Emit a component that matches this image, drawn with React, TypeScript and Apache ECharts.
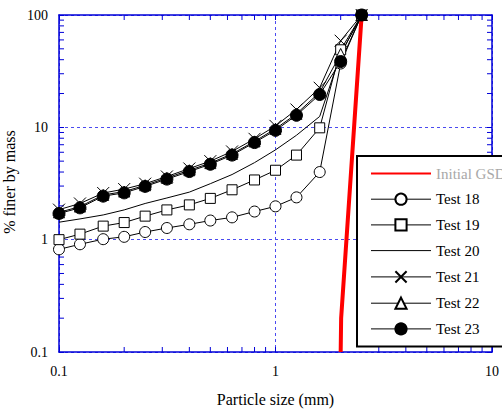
import React, { useEffect, useRef } from "react";
import * as echarts from "echarts";

const sizes = [0.1, 0.125, 0.16, 0.2, 0.25, 0.315, 0.4, 0.5, 0.63, 0.8, 1, 1.25, 1.6, 2, 2.5];
const test18 = [0.82, 0.91, 1.01, 1.06, 1.17, 1.27, 1.37, 1.48, 1.58, 1.78, 1.98, 2.38, 4.0, 37, 100];
const test19 = [1.0, 1.12, 1.32, 1.42, 1.62, 1.84, 2.04, 2.33, 2.78, 3.4, 4.15, 5.66, 9.9, 49, 100];
const test20 = [1.43, 1.53, 1.66, 1.84, 2.1, 2.35, 2.65, 3.15, 3.8, 4.85, 6.3, 8.5, 12.5, 45, 100];
const test21 = [1.85, 2.1, 2.6, 2.82, 3.15, 3.65, 4.3, 5.0, 6.1, 7.9, 10.3, 14.4, 22.5, 59, 100];
const test22 = [1.75, 1.97, 2.5, 2.68, 3.05, 3.55, 4.15, 4.8, 5.8, 7.5, 9.7, 13.2, 20.5, 45, 100];
const test23 = [1.71, 1.92, 2.44, 2.61, 2.98, 3.46, 4.04, 4.69, 5.66, 7.32, 9.4, 12.8, 19.6, 38.5, 100];

const gsdSizes = [2, 2.01, 2.5];
const gsdFiner = [0.1, 0.2, 100];

const xMinorTicks = [0.2, 0.3, 0.4, 0.5, 0.6, 0.7, 0.8, 0.9, 2, 3, 4, 5, 6, 7, 8, 9];
const yMinorTicks = [0.2, 0.3, 0.4, 0.5, 0.6, 0.7, 0.8, 0.9, 2, 3, 4, 5, 6, 7, 8, 9, 20, 30, 40, 50, 60, 70, 80, 90];

const FONT = "'Liberation Serif', 'Times New Roman', 'DejaVu Serif', serif";
const AXIS = "#0000d8";
const GRID = "#4a4af0";

function pairs(xs: number[], ys: number[]) {
  return xs.map((x, i) => [x, ys[i]]);
}

export default function App() {
  const ref = useRef<HTMLDivElement>(null);
  useEffect(() => {
    if (!ref.current) return;
    const chart = echarts.init(ref.current, null, { renderer: "svg" });
    const blackLine = { color: "#000", width: 1 };
    const openItem = { color: "#fff", borderColor: "#000", borderWidth: 1 };
    const tickSeries = (data: number[][], vertical: boolean) => ({
      type: "custom",
      silent: true,
      clip: false,
      xAxisIndex: 0,
      yAxisIndex: 0,
      data,
      renderItem: (params: any, api: any) => {
        const cs = params.coordSys;
        const p = api.coord([api.value(0), api.value(1)]);
        const L = 5;
        const st = { stroke: AXIS, lineWidth: 1 };
        if (vertical) {
          const b = cs.y + cs.height;
          return {
            type: "group",
            children: [
              { type: "line", shape: { x1: p[0], y1: b, x2: p[0], y2: b - L }, style: st },
              { type: "line", shape: { x1: p[0], y1: cs.y, x2: p[0], y2: cs.y + L }, style: st },
            ],
          };
        }
        const r = cs.x + cs.width;
        return {
          type: "group",
          children: [
            { type: "line", shape: { x1: cs.x, y1: p[1], x2: cs.x + L, y2: p[1] }, style: st },
            { type: "line", shape: { x1: r, y1: p[1], x2: r - L, y2: p[1] }, style: st },
          ],
        };
      },
    });
    const axisCommon = {
      type: "log",
      logBase: 10,
      axisLine: { show: true, lineStyle: { color: AXIS, width: 1.5 } },
      axisTick: { show: true, inside: true, length: 5, lineStyle: { color: AXIS } },
    };
    const thin = { width: 1 };
    const option: any = {
      animation: false,
      backgroundColor: "#fff",
      textStyle: { fontFamily: FONT },
      grid: { left: 59, top: 15, right: 6, bottom: 56, containLabel: false },
      graphic: [
        {
          type: "text",
          x: 9,
          y: 182,
          rotation: Math.PI / 2,
          style: {
            text: "% finer by mass",
            fontFamily: FONT,
            fontSize: 16,
            fill: "#000",
            align: "center",
            verticalAlign: "middle",
          },
        },
      ],
      legend: {
        orient: "vertical",
        left: 357,
        top: 156,
        itemWidth: 60,
        itemHeight: 14,
        itemGap: 10.7,
        padding: [10, 14, 10, 13],
        borderColor: "#000",
        borderWidth: 2,
        borderRadius: 0,
        backgroundColor: "#fff",
        selectedMode: false,
        textStyle: { fontFamily: FONT, fontSize: 15, color: "#000" },
        data: [
          { name: "Initial GSD", textStyle: { color: "#a8a8a8" }, itemStyle: { opacity: 0 } },
          { name: "Test 18", lineStyle: thin },
          { name: "Test 19", lineStyle: thin },
          { name: "Test 20", lineStyle: thin, itemStyle: { opacity: 0 } },
          { name: "Test 21", lineStyle: thin },
          { name: "Test 22", lineStyle: thin },
          { name: "Test 23", lineStyle: thin },
        ],
      },
      xAxis: [
        {
          ...axisCommon,
          position: "bottom",
          min: 0.1,
          max: 10,
          name: "Particle size (mm)",
          nameLocation: "middle",
          nameGap: 39,
          nameTextStyle: { fontFamily: FONT, fontSize: 16, color: "#000" },
          axisLabel: { fontFamily: FONT, fontSize: 14, color: "#000", margin: 12 },
          splitLine: { show: true, lineStyle: { color: GRID, type: [3, 3], width: 1 } },
        },
        {
          ...axisCommon,
          position: "top",
          min: 0.1,
          max: 10,
          axisLabel: { show: false },
          splitLine: { show: false },
        },
      ],
      yAxis: [
        {
          ...axisCommon,
          position: "left",
          min: 0.1,
          max: 100,
          axisLabel: { fontFamily: FONT, fontSize: 14, color: "#000", margin: 11 },
          splitLine: { show: true, lineStyle: { color: GRID, type: [3, 3], width: 1 } },
        },
        {
          ...axisCommon,
          position: "right",
          min: 0.1,
          max: 100,
          axisLabel: { show: false },
          splitLine: { show: false },
        },
      ],
      series: [
        {
          name: "Initial GSD",
          type: "line",
          data: pairs(gsdSizes, gsdFiner),
          symbol: "none",
          lineStyle: { color: "#ff0000", width: 4 },
          itemStyle: { color: "#ff0000" },
        },
        {
          name: "Test 18",
          type: "line",
          data: pairs(sizes, test18),
          symbol: "circle",
          symbolSize: 11,
          clip: false,
          lineStyle: blackLine,
          itemStyle: openItem,
        },
        {
          name: "Test 19",
          type: "line",
          data: pairs(sizes, test19),
          symbol: "rect",
          symbolSize: 10,
          clip: false,
          lineStyle: blackLine,
          itemStyle: openItem,
        },
        {
          name: "Test 20",
          type: "line",
          data: pairs(sizes, test20),
          symbol: "none",
          clip: false,
          lineStyle: blackLine,
          itemStyle: { color: "#000" },
        },
        {
          name: "Test 21",
          type: "line",
          data: pairs(sizes, test21),
          symbol: "path://M0,0L10,10M10,0L0,10",
          symbolSize: 12,
          clip: false,
          lineStyle: blackLine,
          itemStyle: { color: "none", borderColor: "#000", borderWidth: 1 },
        },
        {
          name: "Test 22",
          type: "line",
          data: pairs(sizes, test22),
          symbol: "triangle",
          symbolSize: 11,
          clip: false,
          lineStyle: blackLine,
          itemStyle: openItem,
        },
        {
          name: "Test 23",
          type: "line",
          data: pairs(sizes, test23),
          symbol: "circle",
          symbolSize: 12,
          clip: false,
          lineStyle: blackLine,
          itemStyle: { color: "#000", borderColor: "#000", borderWidth: 1 },
        },
        tickSeries(xMinorTicks.map((v) => [v, 1]), true),
        tickSeries(yMinorTicks.map((v) => [1, v]), false),
      ],
    };
    chart.setOption(option);
    return () => chart.dispose();
  }, []);
  return (
    <div
      ref={ref}
      style={{ position: "absolute", left: 0, top: 0, width: 502, height: 412, background: "#fff" }}
    />
  );
}
